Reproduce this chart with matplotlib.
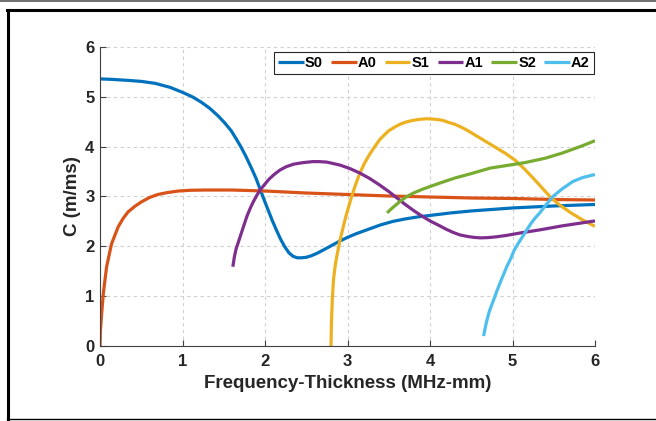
import numpy as np
import matplotlib
matplotlib.use("Agg")
import matplotlib.pyplot as plt
from matplotlib.lines import Line2D

# dispersion curves (x: MHz-mm, y: m/ms)
s0_x = [0, 0.15, 0.34, 0.5, 0.67, 0.85, 1.0, 1.12, 1.23, 1.33, 1.43, 1.51, 1.59, 1.65, 1.71, 1.77, 1.83, 1.89, 1.94, 1.99, 2.04,
        2.09, 2.14, 2.19, 2.24, 2.29, 2.34, 2.39, 2.44, 2.5, 2.56, 2.63, 2.7, 2.8, 2.9, 3.0, 3.1, 3.2, 3.3, 3.4, 3.55, 3.7, 3.85, 4.0,
        4.25, 4.5, 5.0, 5.5, 6.0]
s0_y = [5.36, 5.35, 5.33, 5.31, 5.27, 5.19, 5.09, 5.0, 4.89, 4.77, 4.62, 4.48, 4.32, 4.16, 3.99, 3.80, 3.59, 3.37, 3.15, 2.93, 2.72,
        2.51, 2.32, 2.14, 1.99, 1.87, 1.80, 1.77, 1.77, 1.78, 1.81, 1.86, 1.92, 2.01, 2.10, 2.18, 2.25, 2.31, 2.37, 2.43, 2.50, 2.55, 2.59, 2.62,
        2.67, 2.71, 2.77, 2.81, 2.84]

a0_x = [0, 0.005, 0.02, 0.04, 0.08, 0.14, 0.22, 0.28, 0.34, 0.42, 0.5, 0.6, 0.7, 0.82, 0.95, 1.1, 1.27, 1.6, 2.0, 2.5, 3.0, 3.5, 4.0, 4.5, 5.0, 5.5, 6.0]
a0_y = [0, 0.3, 0.65, 1.05, 1.59, 2.05, 2.39, 2.56, 2.69, 2.80, 2.89, 2.98, 3.04, 3.08, 3.11, 3.125, 3.13, 3.13, 3.11, 3.07, 3.04, 3.01, 2.99, 2.97, 2.96, 2.94, 2.93]

s1_x = [2.80, 2.805, 2.815, 2.83, 2.85, 2.87, 2.91, 2.95, 2.98, 3.05, 3.1, 3.15, 3.21, 3.27, 3.33, 3.39, 3.45, 3.5, 3.58, 3.65, 3.72, 3.8, 3.88,
        3.97, 4.06, 4.15, 4.22, 4.3, 4.38, 4.45, 4.52, 4.6, 4.7, 4.8, 4.92, 5.03, 5.14, 5.25, 5.36, 5.47, 5.58, 5.7, 5.85, 6.0]
s1_y = [0, 0.45, 0.9, 1.33, 1.6, 1.8, 2.13, 2.4, 2.6, 3.0, 3.25, 3.47, 3.68, 3.85, 4.0, 4.14, 4.24, 4.32, 4.40, 4.46, 4.50, 4.53, 4.55,
        4.56, 4.55, 4.53, 4.49, 4.45, 4.39, 4.33, 4.26, 4.18, 4.08, 3.98, 3.86, 3.73, 3.56, 3.37, 3.17, 2.97, 2.82, 2.68, 2.53, 2.4]

a1_x = [1.61, 1.63, 1.65, 1.68, 1.7, 1.74, 1.78, 1.82, 1.86, 1.9, 1.94, 2.0, 2.05, 2.11, 2.18, 2.26, 2.35, 2.46, 2.58, 2.66, 2.75, 2.83, 2.91, 3.03, 3.15,
        3.27, 3.39, 3.5, 3.6, 3.7, 3.8, 3.9, 4.0, 4.12, 4.2, 4.28, 4.36, 4.45, 4.53, 4.61, 4.7, 4.8, 4.93, 5.1, 5.33, 5.6, 5.8, 6.0]
a1_y = [1.59, 1.8, 1.95, 2.1, 2.2, 2.4, 2.6, 2.76, 2.9, 3.02, 3.13, 3.25, 3.35, 3.44, 3.53, 3.60, 3.65, 3.68, 3.70, 3.70, 3.69, 3.66, 3.63, 3.56, 3.47,
        3.36, 3.23, 3.10, 2.97, 2.84, 2.72, 2.61, 2.51, 2.41, 2.34, 2.28, 2.23, 2.20, 2.18, 2.17, 2.175, 2.19, 2.22, 2.27, 2.33, 2.41, 2.46, 2.51]

s2_x = [3.48, 3.51, 3.55, 3.6, 3.65, 3.72, 3.8, 3.9, 4.0, 4.12, 4.3, 4.5, 4.73, 5.0, 5.15, 5.29, 5.4, 5.5, 5.6, 5.7, 5.85, 6.0]
s2_y = [2.67, 2.72, 2.78, 2.85, 2.92, 3.0, 3.07, 3.14, 3.20, 3.27, 3.37, 3.46, 3.57, 3.64, 3.68, 3.73, 3.77, 3.82, 3.87, 3.93, 4.02, 4.12]

a2_x = [4.65, 4.665, 4.68, 4.7, 4.72, 4.745, 4.77, 4.81, 4.85, 4.89, 4.93, 4.98, 5.02, 5.07, 5.12, 5.17, 5.22, 5.27, 5.33, 5.41, 5.49, 5.6, 5.73, 5.85, 5.97, 6.0]
a2_y = [0.2, 0.33, 0.45, 0.58, 0.7, 0.81, 0.92, 1.1, 1.27, 1.43, 1.59, 1.76, 1.92, 2.06, 2.19, 2.32, 2.45, 2.56, 2.67, 2.84, 3.0, 3.15, 3.3, 3.38, 3.43, 3.44]

labels = ['S0', 'A0', 'S1', 'A1', 'S2', 'A2']
colors = ['#0072BD', '#D95319', '#EDB120', '#7E2F8E', '#77AC30', '#4DBEEE']
curves = [(s0_x, s0_y), (a0_x, a0_y), (s1_x, s1_y), (a1_x, a1_y), (s2_x, s2_y), (a2_x, a2_y)]

plt.rcParams['font.family'] = ['Liberation Sans', 'DejaVu Sans']
plt.rcParams['font.weight'] = 'bold'

fig = plt.figure(figsize=(6.56, 4.21), dpi=100)
ax = fig.add_axes([100/656, 1-346/421, 495/656, 299/421])

for (x, y), lab, col in zip(curves, labels, colors):
    ax.plot(x, y, color=col, lw=2.3, label=lab, solid_capstyle='butt', solid_joinstyle='round')

ax.set_xlim(0, 6)
ax.set_ylim(0, 6)
ax.set_xticks(range(7))
ax.set_yticks(range(7))
ax.grid(True, ls=(0, (3, 3)), color='#d0d0d0', lw=0.8)
ax.set_axisbelow(True)
for side in ['top', 'right']:
    ax.spines[side].set_visible(False)
for side in ['left', 'bottom']:
    ax.spines[side].set_color('#404040')
    ax.spines[side].set_linewidth(0.8)
ax.tick_params(direction='in', length=4, width=0.8, color='#404040',
               labelsize=12, labelcolor='#262626')
ax.tick_params(axis='x', pad=6)
ax.tick_params(axis='y', pad=4)
for t in ax.get_xticklabels() + ax.get_yticklabels():
    t.set_fontweight('bold')

ax.set_xlabel('Frequency-Thickness (MHz-mm)', fontsize=13.5, fontweight='bold', color='#262626', labelpad=4)
ax.set_ylabel('C (m/ms)', fontsize=13.5, fontweight='bold', color='#262626', labelpad=3)

leg = ax.legend(loc='upper right', bbox_to_anchor=(0.997, 0.982), ncol=6,
                frameon=True, fancybox=False, edgecolor='#262626', framealpha=1,
                prop={'weight': 'bold', 'size': 10.5}, handlelength=1.75,
                handletextpad=0.1, columnspacing=0.55, borderpad=0.25,
                borderaxespad=0)
leg.get_frame().set_linewidth(0.8)
for h in leg.get_lines():
    h.set_linewidth(2.3)

# screenshot frame
fig.add_artist(Line2D([0, 1], [1-0.5/421, 1-0.5/421], color='#555555', lw=1.2))
fig.add_artist(Line2D([7/656, 1], [1-10/421, 1-10/421], color='black', lw=2.2))
fig.add_artist(Line2D([8/656, 8/656], [1-10/421, 1-419/421], color='black', lw=2.2))
fig.add_artist(Line2D([7/656, 1], [1-419/421, 1-419/421], color='black', lw=1.0))

fig.savefig('out.png', dpi=100)
